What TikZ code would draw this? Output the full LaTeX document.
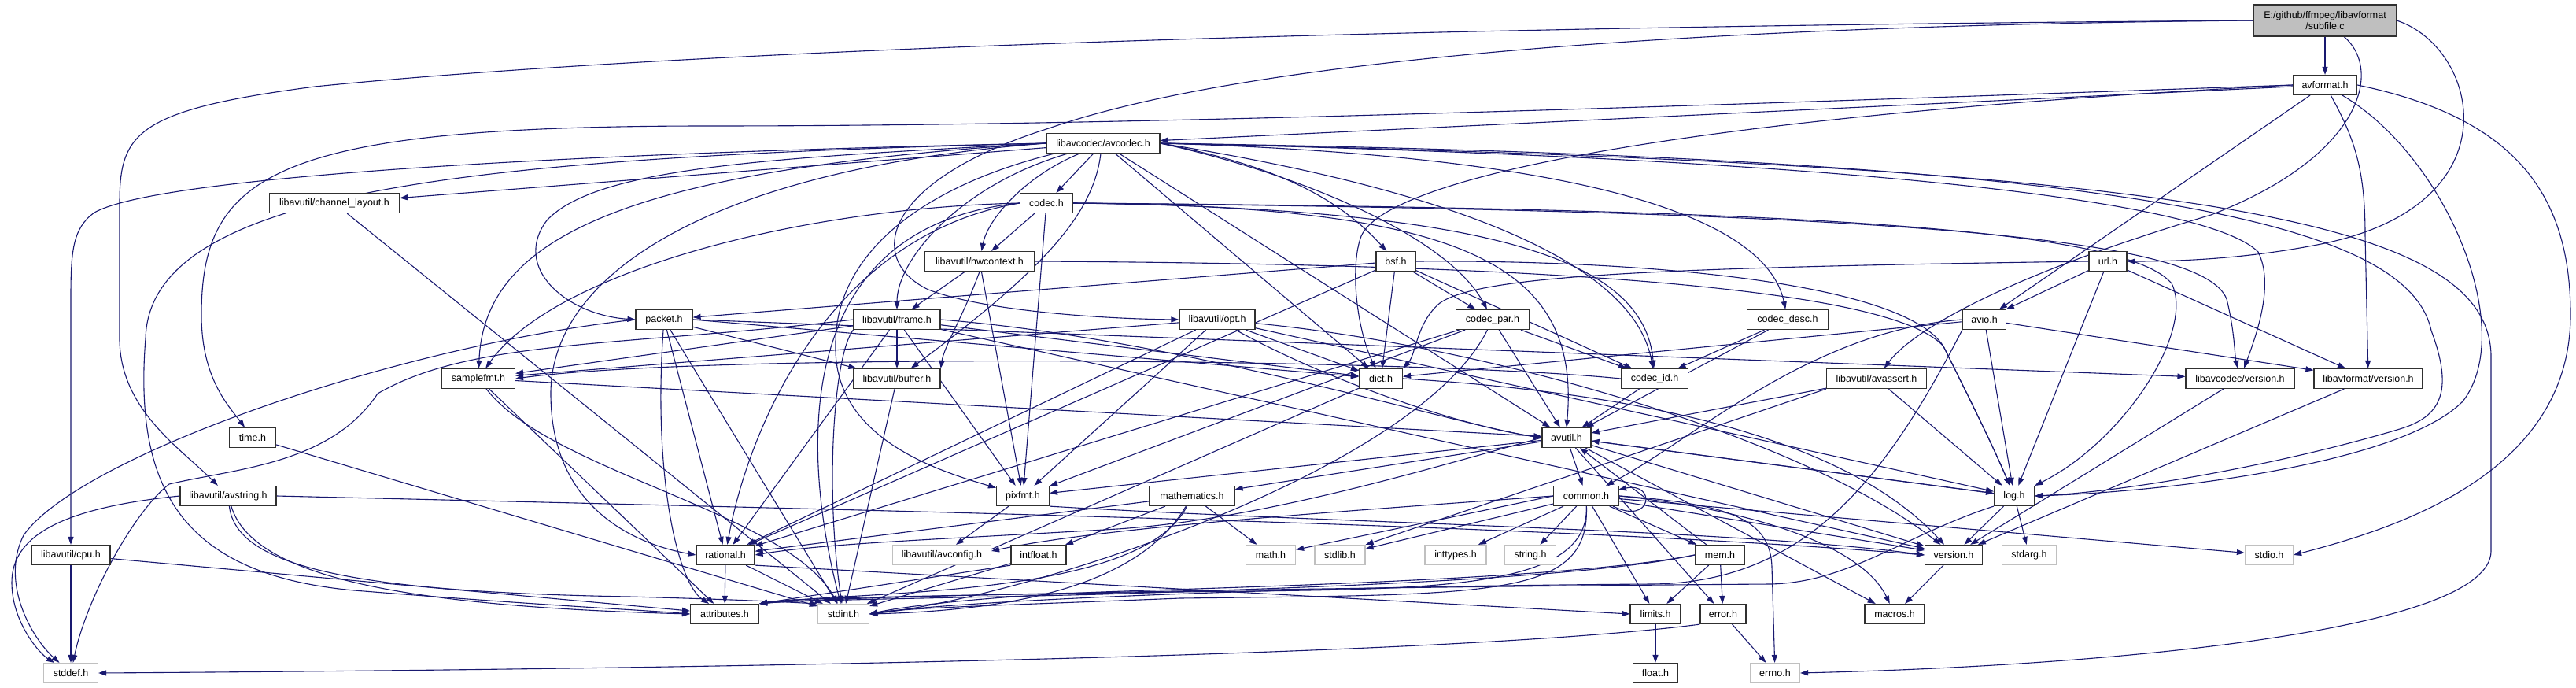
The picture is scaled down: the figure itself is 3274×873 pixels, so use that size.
\documentclass[tikz,border=0pt]{standalone}
\usepackage{fontspec}
\setmainfont{Liberation Sans}
\usetikzlibrary{arrows.meta}
\definecolor{edgec}{HTML}{191970}
\definecolor{rootfill}{HTML}{BFBFBF}
\definecolor{extgray}{HTML}{C0C0C0}
\definecolor{boxline}{HTML}{303030}
\pgfdeclarelayer{bg}
\pgfsetlayers{bg,main}
\tikzset{
  box/.style={draw=boxline, fill=white, line width=1.2pt, inner sep=0pt, minimum height=25pt,
    font=\fontsize{12.5pt}{14pt}\selectfont},
  ext/.style={box, draw=extgray},
  e/.style={draw=edgec, line width=1.1pt, -{Triangle[length=10pt,width=7pt]}}
}
\begin{document}
\begin{tikzpicture}[x=1pt,y=-1pt]
\useasboundingbox (0,0) rectangle (3274,873);
% nodes
\node[box, fill=rootfill, minimum width=181pt, minimum height=40pt, align=center] (root) at (2955,26) {E:/github/ffmpeg/libavformat\\/subfile.c};
\node[box, minimum width=81pt] (avformat) at (2955,108) {avformat.h};
\node[box, minimum width=144pt] (avcodec) at (1402,182) {libavcodec/avcodec.h};
\node[box, minimum width=165pt] (chl) at (425,258) {libavutil/channel\_layout.h};
\node[box, minimum width=67pt] (codec) at (1330,258) {codec.h};
\node[box, minimum width=139pt] (hwctx) at (1245,332) {libavutil/hwcontext.h};
\node[box, minimum width=50pt] (bsf) at (1774,332) {bsf.h};
\node[box, minimum width=48pt] (url) at (2679,332) {url.h};
\node[box, minimum width=72pt] (packet) at (844,406) {packet.h};
\node[box, minimum width=110pt] (frame) at (1140,406) {libavutil/frame.h};
\node[box, minimum width=96pt] (opt) at (1547,406) {libavutil/opt.h};
\node[box, minimum width=93pt] (cpar) at (1897,406) {codec\_par.h};
\node[box, minimum width=103pt] (cdesc) at (2272,406) {codec\_desc.h};
\node[box, minimum width=55pt] (avio) at (2522,406) {avio.h};
\node[box, minimum width=93pt] (sfmt) at (608,481) {samplefmt.h};
\node[box, minimum width=110pt] (buffer) at (1140,481) {libavutil/buffer.h};
\node[box, minimum width=55pt] (dict) at (1755,481) {dict.h};
\node[box, minimum width=85pt] (cid) at (2103,481) {codec\_id.h};
\node[box, minimum width=127pt] (assert) at (2385,481) {libavutil/avassert.h};
\node[box, minimum width=138pt] (lcver) at (2847,481) {libavcodec/version.h};
\node[box, minimum width=138pt] (lfver) at (3010,481) {libavformat/version.h};
\node[box, minimum width=59pt] (time) at (321,556) {time.h};
\node[box, minimum width=62pt] (avutil) at (1991,556) {avutil.h};
\node[box, minimum width=122pt] (avstr) at (290,630) {libavutil/avstring.h};
\node[box, minimum width=67pt] (pixfmt) at (1300,630) {pixfmt.h};
\node[box, minimum width=108pt] (math) at (1515,630) {mathematics.h};
\node[box, minimum width=83pt] (common) at (2016,630) {common.h};
\node[box, minimum width=51pt] (log) at (2560,630) {log.h};
\node[box, minimum width=100pt] (cpu) at (90,705) {libavutil/cpu.h};
\node[box, minimum width=74pt] (rational) at (922,705) {rational.h};
\node[ext, minimum width=125pt] (avconfig) at (1197,705) {libavutil/avconfig.h};
\node[box, minimum width=70pt] (intfloat) at (1320,705) {intfloat.h};
\node[ext, minimum width=63pt] (mathh) at (1615,705) {math.h};
\node[ext, minimum width=64pt] (stdlib) at (1703,705) {stdlib.h};
\node[ext, minimum width=78pt] (inttypes) at (1850,705) {inttypes.h};
\node[ext, minimum width=65pt] (string) at (1945,705) {string.h};
\node[box, minimum width=63pt] (mem) at (2186,705) {mem.h};
\node[box, minimum width=73pt] (version) at (2483,705) {version.h};
\node[ext, minimum width=69pt] (stdarg) at (2579,705) {stdarg.h};
\node[ext, minimum width=61pt] (stdio) at (2884,705) {stdio.h};
\node[box, minimum width=87pt] (attr) at (921,780) {attributes.h};
\node[ext, minimum width=65pt] (stdint) at (1072,780) {stdint.h};
\node[box, minimum width=64pt] (limits) at (2104,780) {limits.h};
\node[box, minimum width=58pt] (error) at (2190,780) {error.h};
\node[box, minimum width=76pt] (macros) at (2408,780) {macros.h};
\node[ext, minimum width=69pt] (stddef) at (90,855) {stddef.h};
\node[box, minimum width=57pt] (float) at (2104,855) {float.h};
\node[ext, minimum width=63pt] (errno) at (2256,855) {errno.h};

\begin{pgfonlayer}{bg}
\fill[white] (0,0) rectangle (3274,873);
% root
\draw[e] (root) -- (avformat);
\draw[e] (root.west) .. controls (1600,35) and (800,70) .. (400,110) .. controls (170,140) and (152,170) .. (152,260) -- (152,430) .. controls (152,520) and (230,570) .. (avstr);
\draw[e] (root.west) .. controls (2200,32) and (1600,70) .. (1333,163) .. controls (1120,230) and (1100,330) .. (1180,368) .. controls (1250,395) and (1400,405) .. (opt.west);
\draw[e] (root.east) .. controls (3150,60) and (3200,260) .. (2950,310) .. controls (2850,330) and (2760,332) .. (url.east);
\draw[e] (root) .. controls (3030,90) and (3000,200) .. (2810,273) .. controls (2550,350) and (2430,420) .. (assert);
% avformat
\draw[e] (avformat) -- (avcodec);
\draw[e] (avformat) -- (avio);
\draw[e] (avformat.west) .. controls (2000,140) and (1400,160) .. (900,160) .. controls (350,160) and (256,220) .. (256,400) .. controls (256,480) and (290,515) .. (time);
\draw[e] (avformat.west) .. controls (2100,150) and (1760,230) .. (1730,300) .. controls (1715,340) and (1725,420) .. (dict);
\draw[e] (avformat) .. controls (3110,200) and (3200,420) .. (3130,510) .. controls (3050,590) and (2750,625) .. (log.east);
\draw[e] (avformat.east) .. controls (3200,150) and (3267,250) .. (3267,400) .. controls (3267,600) and (3050,670) .. (stdio.east);
\draw[e] (avformat) .. controls (2995,180) and (3006,220) .. (3006,300) -- (lfver);
% avcodec
\draw[e] (avcodec) -- (codec);
\draw[e] ([xshift=-30pt]avcodec.south) .. controls (1300,225) and (1255,280) .. (hwctx);
\draw[e] ([xshift=-45pt]avcodec.south) .. controls (1220,235) and (1140,330) .. (frame);
\draw[e] (avcodec.west) .. controls (1000,200) and (760,210) .. (695,280) .. controls (650,340) and (720,400) .. (packet.west);
\draw[e] (avcodec) -- (chl);
\draw[e] (avcodec.west) .. controls (700,195) and (200,225) .. (120,270) .. controls (92,290) and (90,320) .. (90,380) -- (cpu);
\draw[e] (avcodec.west) .. controls (600,200) and (190,240) .. (185,430) .. controls (170,620) and (230,730) .. (450,750) .. controls (700,770) and (820,775) .. (attr.west);
\draw[e] (avcodec.west) .. controls (800,215) and (615,300) .. (sfmt);
\draw[e] (avcodec.west) .. controls (900,215) and (700,350) .. (700,500) .. controls (700,640) and (800,690) .. (rational.west);
\draw[e] ([xshift=-62pt]avcodec.south) .. controls (1160,240) and (1060,330) .. (1062,440) .. controls (1060,560) and (1200,600) .. (pixfmt);
\draw[e] ([xshift=-3pt]avcodec.south) .. controls (1390,270) and (1330,340) .. (buffer);
\draw[e] (avcodec) -- (dict);
\draw[e] (avcodec) -- (avutil);
\draw[e] (avcodec.east) .. controls (1900,250) and (2080,350) .. (cid);
\draw[e] (avcodec.east) .. controls (2100,200) and (2250,300) .. (cdesc);
\draw[e] (avcodec.east) .. controls (1620,210) and (1700,250) .. (bsf);
\draw[e] (avcodec.east) .. controls (1650,220) and (1840,300) .. (cpar);
\draw[e] (avcodec.east) .. controls (2300,200) and (2800,250) .. (2870,320) .. controls (2890,360) and (2870,420) .. (lcver);
\draw[e] (avcodec.east) .. controls (2700,200) and (3060,280) .. (3090,420) .. controls (3120,500) and (3100,530) .. (3050,545) .. controls (2900,590) and (2700,625) .. (log.east);
\draw[e] (avcodec.east) .. controls (2800,210) and (3160,280) .. (3166,450) -- (3166,700) .. controls (3166,800) and (2700,845) .. (errno.east);
% codec
\draw[e] (codec) -- (hwctx);
\draw[e] (codec) -- (pixfmt);
\draw[e] (codec.west) .. controls (1000,265) and (700,350) .. (sfmt);
\draw[e] (codec.west) .. controls (1050,300) and (950,550) .. (rational);
\draw[e] (codec.west) .. controls (980,290) and (1030,620) .. (stdint);
\draw[e] (codec.east) .. controls (1850,262) and (2010,330) .. (avutil.north);
\draw[e] (codec.east) .. controls (1900,265) and (2090,330) .. (cid);
\draw[e] (codec.east) .. controls (2300,265) and (2700,290) .. (2760,360) .. controls (2790,420) and (2700,560) .. (log);
\draw[e] (codec.east) .. controls (2400,268) and (2800,300) .. (2830,380) .. controls (2840,420) and (2840,450) .. (lcver);
% hwcontext
\draw[e] (hwctx) -- (frame);
\draw[e] (hwctx.south) .. controls (1225,400) and (1200,440) .. (buffer.north east);
\draw[e] (hwctx) -- (pixfmt);
\draw[e] (hwctx.east) .. controls (1900,335) and (2400,360) .. (2470,440) .. controls (2500,500) and (2530,560) .. (log);
% frame
\draw[e] (frame.west) .. controls (800,440) and (600,430) .. (480,500) .. controls (420,590) and (300,595) .. (215,615) .. controls (170,650) and (110,760) .. (stddef);
\draw[e] (frame.south west) .. controls (1060,450) and (1048,620) .. (stdint);
\draw[e] (frame) -- (buffer);
\draw[e] (frame.east) .. controls (1500,430) and (1850,540) .. (avutil.west);
\draw[e] (frame) -- (dict);
\draw[e] (frame) -- (rational);
\draw[e] (frame) -- (sfmt);
\draw[e] (frame) -- (pixfmt);
\draw[e] (frame) -- (version);
% packet
\draw[e] (packet.west) .. controls (500,440) and (100,580) .. (30,680) .. controls (0,740) and (40,810) .. (stddef);
\draw[e] (packet) -- (stdint);
\draw[e] (packet) .. controls (830,600) and (860,740) .. (attr);
\draw[e] (packet) -- (buffer);
\draw[e] (packet.east) -- (dict);
\draw[e] (packet) -- (rational);
\draw[e] (packet.east) -- (lcver);
% bsf
\draw[e] (bsf) -- (dict);
\draw[e] (bsf.east) .. controls (2100,330) and (2420,360) .. (2470,440) .. controls (2500,500) and (2530,560) .. (log);
\draw[e] (bsf) -- (rational);
\draw[e] (bsf) -- (cid);
\draw[e] (bsf) -- (cpar);
\draw[e] (bsf) -- (packet);
% codec_par
\draw[e] (cpar) .. controls (1800,600) and (1300,760) .. (stdint.east);
\draw[e] (cpar) -- (avutil);
\draw[e] (cpar) -- (rational);
\draw[e] (cpar) -- (pixfmt);
\draw[e] (cpar) -- (cid);
% codec_desc, codec_id
\draw[e] (cdesc) -- (avutil);
\draw[e] (cdesc) -- (cid);
\draw[e] (cid) -- (avutil);
\draw[e] (cid.west) .. controls (1800,455) and (900,448) .. (sfmt.east);
% opt
\draw[e] (opt) -- (rational);
\draw[e] (opt) .. controls (1680,480) and (1850,540) .. (avutil.west);
\draw[e] (opt) -- (dict);
\draw[e] (opt) -- (log);
\draw[e] (opt) -- (pixfmt);
\draw[e] (opt) -- (sfmt);
\draw[e] (opt) .. controls (1900,440) and (2300,560) .. (version);
% avstring
\draw[e] (avstr.west) .. controls (80,645) and (15,680) .. (15,740) .. controls (15,790) and (50,830) .. (stddef);
\draw[e] (avstr) .. controls (300,720) and (450,752) .. (800,758) .. controls (950,762) and (1000,765) .. (stdint.north west);
\draw[e] (avstr) .. controls (320,730) and (500,770) .. (attr.west);
\draw[e] (avstr.east) .. controls (1200,650) and (2000,668) .. (version.west);
% cpu, time, channel_layout, samplefmt, buffer
\draw[e] (cpu) -- (stddef);
\draw[e] (cpu) -- (attr);
\draw[e] (time) -- (stdint);
\draw[e] (chl) -- (stdint);
\draw[e] (sfmt) .. controls (700,600) and (1000,650) .. (stdint);
\draw[e] (sfmt) -- (attr);
\draw[e] (sfmt) -- (avutil);
\draw[e] (buffer) -- (stdint);
% pixfmt, mathematics, rational, intfloat
\draw[e] (pixfmt) -- (avconfig);
\draw[e] (pixfmt.south east) .. controls (1700,665) and (2200,672) .. (version.west);
\draw[e] (math) .. controls (1450,740) and (1300,775) .. (stdint.east);
\draw[e] (math) -- (mathh);
\draw[e] (math) .. controls (1450,760) and (1100,750) .. (attr.north east);
\draw[e] (math) -- (rational);
\draw[e] (math) -- (intfloat);
\draw[e] (rational) -- (stdint);
\draw[e] (rational) -- (attr);
\draw[e] (rational.south east) -- (limits.west);
\draw[e] (intfloat) -- (stdint);
\draw[e] (intfloat.south west) -- (attr.north east);
% dict
\draw[e] (dict) -- (stdint);
\draw[e] (dict.east) .. controls (2100,500) and (2350,560) .. (version);
% avutil
\draw[e] (avutil) -- (common);
\draw[e] (avutil) -- (error);
\draw[e] (avutil.west) .. controls (1800,600) and (1600,660) .. (1420,672) .. controls (1200,685) and (1050,690) .. (rational.east);
\draw[e] (avutil) -- (version);
\draw[e] (avutil) -- (macros);
\draw[e] (avutil) -- (math);
\draw[e] (avutil) -- (log);
\draw[e] (avutil) -- (pixfmt);
% common
\draw[e] (common.east) .. controls (2200,640) and (2250,660) .. (2252,720) -- (errno);
\draw[e] (common) -- (inttypes);
\draw[e] (common) -- (limits);
\draw[e] (common.west) -- (mathh);
\draw[e] (common) .. controls (2020,760) and (1900,755) .. (1500,760) .. controls (1300,768) and (1150,772) .. (stdint.east);
\draw[e] (common) -- (stdio);
\draw[e] (common) -- (stdlib);
\draw[e] (common) -- (string);
\draw[e] (common) .. controls (2020,755) and (1800,748) .. (1500,752) .. controls (1200,756) and (1000,760) .. (attr.north east);
\draw[e] (common.east) .. controls (2250,650) and (2370,700) .. (macros);
\draw[e] (common) -- (version);
\draw[e] (common.west) .. controls (1700,650) and (1400,670) .. ([yshift=5pt]avconfig.east);
\draw[e] (common) -- (mem);
\draw[e] (2050,643) .. controls (2100,668) and (2105,612) .. (2057,622);
% mem
\draw[e] (mem) -- (limits);
\draw[e] (mem) -- (error);
\draw[e] (mem) -- (avutil);
\draw[e] (mem.west) .. controls (2000,735) and (1600,745) .. (1400,752) .. controls (1250,758) and (1150,770) .. (stdint.east);
\draw[e] (mem.west) .. controls (2000,738) and (1600,748) .. (1400,755) .. controls (1200,760) and (1020,762) .. (attr.north east);
% error, log, versions, limits
\draw[e] (error) -- (errno);
\draw[e] (error.south west) .. controls (1800,840) and (600,852) .. (stddef.east);
\draw[e] (log) -- (stdarg);
\draw[e] (log) -- (avutil);
\draw[e] (log) -- (version);
\draw[e] (log.south west) .. controls (2420,680) and (2350,740) .. (2250,742) .. controls (1800,745) and (1100,755) .. (attr.north east);
\draw[e] (version) -- (macros);
\draw[e] (lcver) -- (version);
\draw[e] (lfver) -- (version);
\draw[e] (limits) -- (float);
% avassert
\draw[e] (assert.south west) -- (stdlib.north east);
\draw[e] (assert) -- (avutil);
\draw[e] (assert) -- (log);
% avio
\draw[e] (avio.south west) .. controls (2400,600) and (2300,740) .. (2100,742) .. controls (1600,745) and (1200,765) .. (stdint.east);
\draw[e] (avio.west) .. controls (2300,420) and (2150,560) .. (common);
\draw[e] (avio) -- (dict);
\draw[e] (avio) -- (log);
\draw[e] (avio) -- (lfver);
% url
\draw[e] (url) -- (avio);
\draw[e] (url) -- (lfver);
\draw[e] (url) -- (log);
\draw[e] (url.west) .. controls (2100,340) and (1880,350) .. (1830,385) .. controls (1800,410) and (1800,450) .. (dict.north east);
\end{pgfonlayer}
\end{tikzpicture}
\end{document}
